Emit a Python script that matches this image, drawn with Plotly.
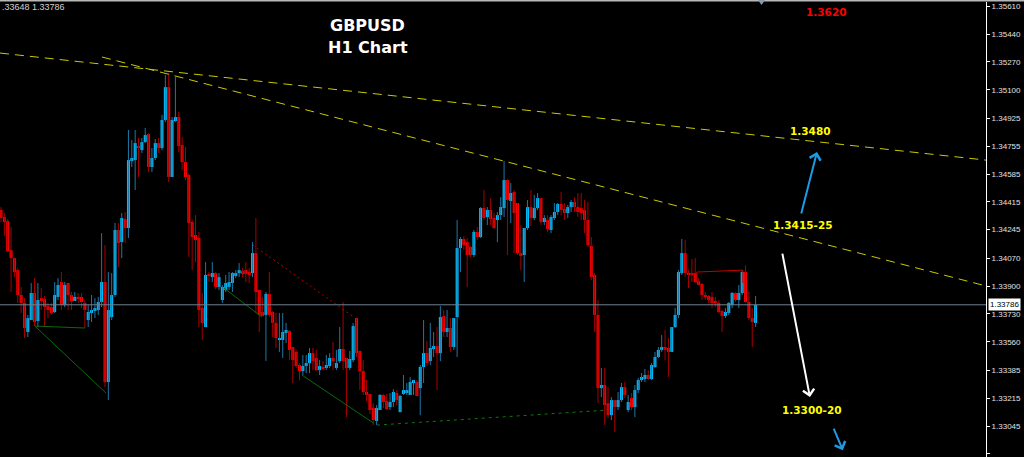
import plotly.graph_objects as go

# ---------------- data (GBPUSD H1 candles) ----------------
OPEN = [
    1.34365, 1.34322, 1.34298, 1.34120, 1.34071, 1.33998, 1.33846, 1.33797, 1.33620, 1.33693,
    1.33858, 1.33687, 1.33827, 1.33821, 1.33778, 1.33772, 1.33742, 1.33834, 1.33925, 1.33785,
    1.33919, 1.33846, 1.33809, 1.33834, 1.33834, 1.33797, 1.33693, 1.33736, 1.33748, 1.33754,
    1.33803, 1.33925, 1.33314, 1.33711, 1.33846, 1.34243, 1.34169, 1.34310, 1.34255, 1.34664,
    1.34670, 1.34756, 1.34731, 1.34780, 1.34829, 1.34628, 1.34683, 1.34774, 1.34744, 1.34915,
    1.35116, 1.34567, 1.34909, 1.34933, 1.34762, 1.34658, 1.34579, 1.34292, 1.34212, 1.34194,
    1.33766, 1.33650, 1.33974, 1.33955, 1.33980, 1.33895, 1.33815, 1.33876, 1.33895, 1.33919,
    1.33962, 1.33980, 1.33992, 1.33998, 1.33986, 1.33980, 1.34102, 1.33876, 1.33742, 1.33724,
    1.33852, 1.33742, 1.33675, 1.33571, 1.33571, 1.33614, 1.33626, 1.33528, 1.33498, 1.33418,
    1.33381, 1.33412, 1.33430, 1.33491, 1.33461, 1.33387, 1.33400, 1.33400, 1.33412, 1.33461,
    1.33400, 1.33442, 1.33516, 1.33461, 1.33400, 1.33448, 1.33705, 1.33504, 1.33381, 1.33253,
    1.33241, 1.33155, 1.33076, 1.33143, 1.33235, 1.33198, 1.33161, 1.33192, 1.33247, 1.33130,
    1.33241, 1.33247, 1.33235, 1.33308, 1.33314, 1.33277, 1.33406, 1.33491, 1.33442, 1.33516,
    1.33534, 1.33491, 1.33717, 1.33620, 1.33644, 1.33528, 1.33711, 1.34133, 1.34188, 1.34169,
    1.34139, 1.34090, 1.34231, 1.34200, 1.34377, 1.34322, 1.34365, 1.34316, 1.34304, 1.34334,
    1.34377, 1.34548, 1.34420, 1.34475, 1.34408, 1.34102, 1.34090, 1.34255, 1.34383, 1.34316,
    1.34377, 1.34438, 1.34292, 1.34304, 1.34243, 1.34316, 1.34353, 1.34402, 1.34371, 1.34347,
    1.34383, 1.34414, 1.34383, 1.34377, 1.34365, 1.34304, 1.34145, 1.33968, 1.33724, 1.33277,
    1.33296, 1.33185, 1.33112, 1.33204, 1.33161, 1.33204, 1.33283, 1.33143, 1.33216, 1.33161,
    1.33265, 1.33326, 1.33332, 1.33357, 1.33332, 1.33406, 1.33467, 1.33510, 1.33528, 1.33522,
    1.33498, 1.33650, 1.33724, 1.33980, 1.34102, 1.33980, 1.33980, 1.33980, 1.33931, 1.33913,
    1.33846, 1.33840, 1.33834, 1.33809, 1.33797, 1.33748, 1.33717, 1.33736, 1.33785, 1.33858,
    1.33815, 1.33858, 1.33986, 1.33803, 1.33705, 1.33675,
]
HIGH = [
    1.34383, 1.34347, 1.34310, 1.34261, 1.34077, 1.34010, 1.33895, 1.33827, 1.33724, 1.33919,
    1.33949, 1.33919, 1.33888, 1.33840, 1.33797, 1.33797, 1.33925, 1.33949, 1.33986, 1.33925,
    1.33919, 1.33864, 1.33864, 1.33858, 1.33858, 1.33815, 1.33785, 1.33846, 1.33827, 1.33834,
    1.34224, 1.34151, 1.33986, 1.33980, 1.34286, 1.34286, 1.34347, 1.34353, 1.34854, 1.34793,
    1.34854, 1.34805, 1.34805, 1.34866, 1.34835, 1.34744, 1.34799, 1.34805, 1.34946, 1.35190,
    1.35202, 1.34933, 1.35178, 1.34964, 1.34811, 1.34750, 1.34591, 1.34304, 1.34334, 1.34231,
    1.33858, 1.34047, 1.33986, 1.34047, 1.33986, 1.33980, 1.33907, 1.33968, 1.33986, 1.33986,
    1.33998, 1.34041, 1.34010, 1.34047, 1.34010, 1.34169, 1.34316, 1.33876, 1.33834, 1.33864,
    1.33986, 1.33748, 1.33736, 1.33736, 1.33736, 1.33675, 1.33632, 1.33528, 1.33510, 1.33430,
    1.33479, 1.33479, 1.33522, 1.33522, 1.33510, 1.33448, 1.33442, 1.33479, 1.33491, 1.33559,
    1.33510, 1.33650, 1.33803, 1.33461, 1.33504, 1.33675, 1.33705, 1.33504, 1.33448, 1.33326,
    1.33241, 1.33185, 1.33173, 1.33241, 1.33241, 1.33241, 1.33247, 1.33271, 1.33265, 1.33235,
    1.33357, 1.33308, 1.33345, 1.33326, 1.33326, 1.33418, 1.33693, 1.33565, 1.33675, 1.33620,
    1.33650, 1.33778, 1.33754, 1.33754, 1.33705, 1.33705, 1.34304, 1.34200, 1.34206, 1.34194,
    1.34145, 1.34243, 1.34261, 1.34383, 1.34487, 1.34383, 1.34438, 1.34347, 1.34353, 1.34444,
    1.34664, 1.34554, 1.34530, 1.34487, 1.34408, 1.34273, 1.34255, 1.34426, 1.34487, 1.34457,
    1.34469, 1.34438, 1.34334, 1.34334, 1.34334, 1.34408, 1.34408, 1.34475, 1.34408, 1.34396,
    1.34426, 1.34444, 1.34469, 1.34469, 1.34426, 1.34414, 1.34200, 1.33980, 1.33815, 1.33400,
    1.33400, 1.33283, 1.33222, 1.33204, 1.33253, 1.33308, 1.33314, 1.33235, 1.33247, 1.33296,
    1.33338, 1.33369, 1.33394, 1.33387, 1.33430, 1.33498, 1.33528, 1.33601, 1.33632, 1.33583,
    1.33650, 1.33766, 1.33998, 1.34188, 1.34182, 1.33998, 1.34065, 1.34071, 1.33949, 1.33919,
    1.33864, 1.33846, 1.33864, 1.33834, 1.33815, 1.33754, 1.33766, 1.33803, 1.33864, 1.33864,
    1.33907, 1.33998, 1.34028, 1.33864, 1.33766, 1.33840,
]
LOW = [
    1.34292, 1.34206, 1.34108, 1.33864, 1.33955, 1.33797, 1.33736, 1.33583, 1.33589, 1.33693,
    1.33656, 1.33650, 1.33754, 1.33650, 1.33705, 1.33724, 1.33736, 1.33815, 1.33754, 1.33772,
    1.33754, 1.33754, 1.33809, 1.33797, 1.33766, 1.33644, 1.33650, 1.33681, 1.33705, 1.33724,
    1.33772, 1.33283, 1.33204, 1.33693, 1.33834, 1.34016, 1.34071, 1.34163, 1.34194, 1.34628,
    1.34487, 1.34567, 1.34713, 1.34774, 1.34597, 1.34597, 1.34670, 1.34713, 1.34731, 1.34903,
    1.34536, 1.34567, 1.34903, 1.34719, 1.34609, 1.34548, 1.34077, 1.33998, 1.34047, 1.33650,
    1.33571, 1.33650, 1.33925, 1.33925, 1.33882, 1.33876, 1.33797, 1.33864, 1.33876, 1.33864,
    1.33949, 1.33955, 1.33955, 1.33925, 1.33919, 1.33955, 1.33736, 1.33620, 1.33717, 1.33443,
    1.33711, 1.33589, 1.33522, 1.33498, 1.33461, 1.33553, 1.33448, 1.33308, 1.33400, 1.33326,
    1.33357, 1.33369, 1.33369, 1.33387, 1.33381, 1.33357, 1.33387, 1.33387, 1.33400, 1.33387,
    1.33387, 1.33430, 1.33387, 1.33100, 1.33387, 1.33436, 1.33467, 1.33265, 1.33235, 1.33198,
    1.33118, 1.33051, 1.33051, 1.33143, 1.33155, 1.33143, 1.33143, 1.33161, 1.33173, 1.33130,
    1.33235, 1.33235, 1.33235, 1.33235, 1.33229, 1.33112, 1.33308, 1.33412, 1.33418, 1.33467,
    1.33265, 1.33442, 1.33589, 1.33589, 1.33498, 1.33510, 1.33467, 1.33986, 1.34120, 1.33895,
    1.34077, 1.34077, 1.34182, 1.34194, 1.34304, 1.34273, 1.34273, 1.34249, 1.34169, 1.34304,
    1.34322, 1.34090, 1.34286, 1.34102, 1.34090, 1.33998, 1.33925, 1.34243, 1.34267, 1.34304,
    1.34365, 1.34273, 1.34273, 1.34231, 1.34224, 1.34304, 1.34334, 1.34334, 1.34304, 1.34316,
    1.34353, 1.34353, 1.34322, 1.34304, 1.34224, 1.34139, 1.33937, 1.33620, 1.33185, 1.33222,
    1.33051, 1.33094, 1.33082, 1.33008, 1.33143, 1.33192, 1.33216, 1.33130, 1.33143, 1.33100,
    1.33247, 1.33314, 1.33314, 1.33326, 1.33326, 1.33400, 1.33461, 1.33498, 1.33448, 1.33345,
    1.33498, 1.33644, 1.33705, 1.33968, 1.33955, 1.33888, 1.33925, 1.33919, 1.33907, 1.33815,
    1.33815, 1.33797, 1.33766, 1.33772, 1.33736, 1.33620, 1.33705, 1.33724, 1.33766, 1.33803,
    1.33766, 1.33846, 1.33797, 1.33693, 1.33528, 1.33650,
]
CLOSE = [
    1.34316, 1.34292, 1.34114, 1.34071, 1.33986, 1.33846, 1.33797, 1.33644, 1.33705, 1.33858,
    1.33681, 1.33815, 1.33809, 1.33772, 1.33754, 1.33736, 1.33846, 1.33907, 1.33785, 1.33907,
    1.33846, 1.33809, 1.33834, 1.33821, 1.33803, 1.33754, 1.33742, 1.33754, 1.33766, 1.33803,
    1.33925, 1.33314, 1.33754, 1.33846, 1.34243, 1.34163, 1.34316, 1.34255, 1.34670, 1.34683,
    1.34774, 1.34750, 1.34780, 1.34823, 1.34628, 1.34683, 1.34774, 1.34744, 1.34915, 1.35116,
    1.34567, 1.34915, 1.34933, 1.34756, 1.34658, 1.34567, 1.34286, 1.34200, 1.34182, 1.33754,
    1.33675, 1.33968, 1.33962, 1.33980, 1.33895, 1.33955, 1.33895, 1.33919, 1.33925, 1.33980,
    1.33980, 1.33998, 1.33980, 1.33974, 1.33974, 1.34102, 1.33864, 1.33724, 1.33717, 1.33852,
    1.33724, 1.33675, 1.33583, 1.33583, 1.33620, 1.33632, 1.33510, 1.33448, 1.33412, 1.33381,
    1.33412, 1.33430, 1.33491, 1.33442, 1.33387, 1.33412, 1.33394, 1.33418, 1.33461, 1.33442,
    1.33430, 1.33516, 1.33442, 1.33400, 1.33455, 1.33656, 1.33491, 1.33381, 1.33253, 1.33235,
    1.33143, 1.33082, 1.33155, 1.33235, 1.33192, 1.33149, 1.33192, 1.33253, 1.33204, 1.33229,
    1.33265, 1.33265, 1.33314, 1.33326, 1.33229, 1.33406, 1.33491, 1.33430, 1.33522, 1.33534,
    1.33491, 1.33711, 1.33620, 1.33644, 1.33528, 1.33705, 1.34133, 1.34188, 1.34151, 1.34090,
    1.34090, 1.34231, 1.34200, 1.34377, 1.34316, 1.34365, 1.34310, 1.34255, 1.34334, 1.34383,
    1.34548, 1.34426, 1.34469, 1.34347, 1.34102, 1.34090, 1.34255, 1.34383, 1.34316, 1.34377,
    1.34438, 1.34292, 1.34316, 1.34249, 1.34322, 1.34353, 1.34402, 1.34365, 1.34347, 1.34383,
    1.34414, 1.34383, 1.34353, 1.34347, 1.34304, 1.34151, 1.33955, 1.33724, 1.33277, 1.33296,
    1.33173, 1.33112, 1.33204, 1.33161, 1.33204, 1.33283, 1.33235, 1.33192, 1.33161, 1.33265,
    1.33326, 1.33345, 1.33357, 1.33332, 1.33418, 1.33467, 1.33510, 1.33528, 1.33510, 1.33498,
    1.33650, 1.33724, 1.33986, 1.34102, 1.33980, 1.33968, 1.33968, 1.33925, 1.33907, 1.33846,
    1.33834, 1.33815, 1.33797, 1.33797, 1.33742, 1.33717, 1.33742, 1.33797, 1.33858, 1.33815,
    1.33858, 1.33986, 1.33803, 1.33705, 1.33681, 1.33785,
]

Y_TICKS = [1.35610, 1.35440, 1.35270, 1.35100, 1.34925, 1.34755, 1.34585, 1.34415, 1.34245,
           1.34070, 1.33900, 1.33730, 1.33560, 1.33385, 1.33215, 1.33045, 1.32875]
Y_TICK_LABELS = ["1.35610", "1.35440", "1.35270", "1.35100", "1.34925", "1.34755", "1.34585",
                 "1.34415", "1.34245", "1.34070", "1.33900", "1.33730", "1.33560", "1.33385",
                 "1.33215", "1.33045", "1.32875"]
LAST_PRICE = 1.33786
LAST_PRICE_LABEL = "1.33786"
Y_RANGE = [1.32856, 1.35636]
X_RANGE = [-0.3, 293.7]

# drawn objects (bar index, price)
TREND_A_X = [-0.3, 293.7]
TREND_A_Y = [1.35324, 1.34670]
TREND_B_X = [30.1, 293.7]
TREND_B_Y = [1.35300, 1.33901]
GREEN_1_X = [31.3, 10.1, 17.6, 22.7, 25.0]
GREEN_1_Y = [1.33247, 1.33656, 1.33650, 1.33644, 1.33644]
GREEN_2_X = [66.5, 77.8]
GREEN_2_Y = [1.33888, 1.33711]
GREEN_3_X = [89.7, 111.0]
GREEN_3_Y = [1.33357, 1.33064]
GREEN_DOT_X = [112.1, 181.0]
GREEN_DOT_Y = [1.33051, 1.33143]
RED_DOT_X = [75.1, 105.2]
RED_DOT_Y = [1.34151, 1.33711]
RED_BOX_X = [207.5, 207.5, 214.4, 221.2, 221.2]
RED_BOX_Y = [1.33919, 1.33986, 1.33992, 1.33998, 1.33919]

ARROWS = [  # (tail_x, tail_y, head_x, head_y, colour)
    (238.5, 1.34334, 243.3, 1.34719, "#1e9be6"),
    (232.9, 1.34108, 241.2, 1.33222, "#ffffff"),
    (248.1, 1.33039, 251.0, 1.32898, "#1e9be6"),
]
LEVEL_TEXTS = [  # (x, price, text, colour)
    (241.5, 1.34848, "1.3480", "#ffff00"),
    (239.1, 1.34273, "1.3415-25", "#ffff00"),
    (241.8, 1.33143, "1.3300-20", "#ffff00"),
    (246.0, 1.35575, "1.3620", "#ff0000"),
]
TITLE_LINES = [(109.4, 1.35495, "GBPUSD"), (109.4, 1.35361, "H1 Chart")]

n = len(OPEN)
assert len(HIGH) == n and len(LOW) == n and len(CLOSE) == n, (len(OPEN), len(HIGH), len(LOW), len(CLOSE))

BULL_BODY, BEAR_BODY = "#00bfff", "#ff0000"
BULL_WICK, BEAR_WICK = "#1f76a6", "#a80000"
MIN_BODY = 0.00005

fig = go.Figure()

for bull in (True, False):
    idx = [i for i in range(n) if (CLOSE[i] >= OPEN[i]) == bull]
    wx, wy = [], []
    for i in idx:
        wx += [i, i, None]
        wy += [min(LOW[i], OPEN[i], CLOSE[i]), max(HIGH[i], OPEN[i], CLOSE[i]), None]
    fig.add_trace(go.Scatter(x=wx, y=wy, mode="lines",
                             line=dict(color=BULL_WICK if bull else BEAR_WICK, width=1),
                             hoverinfo="skip"))
    fig.add_trace(go.Bar(
        x=idx,
        y=[max(abs(CLOSE[i] - OPEN[i]), MIN_BODY) for i in idx],
        base=[min(OPEN[i], CLOSE[i]) for i in idx],
        width=0.9,
        marker=dict(color=BULL_BODY if bull else BEAR_BODY, line=dict(width=0)),
        hoverinfo="skip"))

def add_line(xs, ys, color, dash="solid", width=1):
    fig.add_trace(go.Scatter(x=xs, y=ys, mode="lines",
                             line=dict(color=color, width=width, dash=dash),
                             hoverinfo="skip"))

add_line(GREEN_1_X, GREEN_1_Y, "#0b6a0b")
add_line(GREEN_2_X, GREEN_2_Y, "#0b6a0b")
add_line(GREEN_3_X, GREEN_3_Y, "#0b6a0b")
add_line(GREEN_DOT_X, GREEN_DOT_Y, "#0b7a0b", dash="3px,4px")
add_line(RED_DOT_X, RED_DOT_Y, "#b00000", dash="2px,3px")
add_line(RED_BOX_X, RED_BOX_Y, "#c00000")
add_line(TREND_A_X, TREND_A_Y, "#caca00", dash="9px,6px")
add_line(TREND_B_X, TREND_B_Y, "#caca00", dash="9px,6px")

annotations = []
for tx, ty, hx, hy, col in ARROWS:
    annotations.append(dict(x=hx, y=hy, ax=tx, ay=ty, xref="x", yref="y", axref="x", ayref="y",
                            text="", showarrow=True, arrowhead=4, arrowsize=1.1,
                            arrowwidth=2, arrowcolor=col, standoff=0))
for x, y, t, col in LEVEL_TEXTS:
    annotations.append(dict(x=x, y=y, xref="x", yref="y", text=t, showarrow=False,
                            font=dict(family="DejaVu Sans", size=10.5, color=col, weight="bold")))
for x, y, t in TITLE_LINES:
    annotations.append(dict(x=x, y=y, xref="x", yref="y", text=t, showarrow=False,
                            font=dict(family="DejaVu Sans", size=16, color="white", weight="bold")))
annotations.append(dict(x=1, xref="paper", xanchor="left", xshift=2, y=LAST_PRICE, yref="y",
                        text=LAST_PRICE_LABEL, showarrow=False, bgcolor="white", borderpad=1,
                        font=dict(family="Liberation Sans", size=8, color="black")))
annotations.append(dict(x=0, xref="paper", xanchor="left", y=(457 - 7) / 455, yref="paper",
                        yanchor="middle", text=".33648 1.33786", showarrow=False,
                        font=dict(family="Liberation Sans", size=9, color="#d0d0d0")))

shapes = [
    dict(type="line", xref="paper", yref="y", x0=0, x1=1, y0=LAST_PRICE, y1=LAST_PRICE,
         line=dict(color="#6f7f8f", width=1), layer="above"),
    dict(type="line", xref="paper", yref="paper", x0=0, x1=1.04, y0=1.0035, y1=1.0035,
         line=dict(color="#b8b8b8", width=2)),
    dict(type="path", xref="paper", yref="paper",
         path="M 0.7688 1.0044 L 0.7759 1.0044 L 0.7723 0.9934 Z",
         fillcolor="#8a9aaa", line=dict(width=0)),
]

fig.update_layout(
    width=1024, height=457,
    margin=dict(l=0, r=38, t=2, b=0),
    paper_bgcolor="black", plot_bgcolor="black",
    showlegend=False, barmode="overlay", hovermode=False,
    annotations=annotations, shapes=shapes,
    xaxis=dict(range=X_RANGE, visible=False, fixedrange=True),
    yaxis=dict(range=Y_RANGE, side="right", showgrid=False, zeroline=False,
               showline=True, linecolor="white", linewidth=1,
               ticks="outside", ticklen=3, tickcolor="white",
               tickvals=Y_TICKS, ticktext=Y_TICK_LABELS,
               tickfont=dict(family="Liberation Sans", size=8, color="#e0e0e0")),
)

fig.write_html("out.html", config={"displayModeBar": False},
               post_script="document.body.style.margin='0';document.body.style.background='black';")
